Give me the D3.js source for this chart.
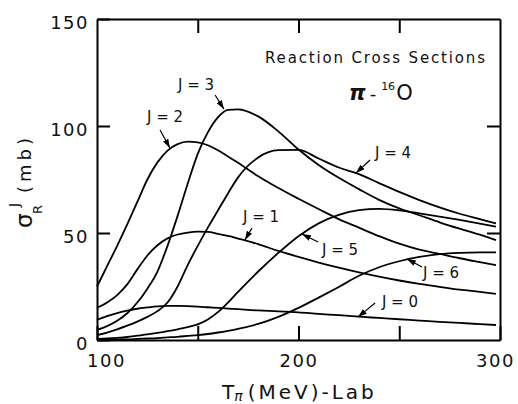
<!DOCTYPE html>
<html>
<head>
<meta charset="utf-8">
<script src="https://cdn.jsdelivr.net/npm/d3@7"></script>
<style>
	body { margin: 0; background: #fff; }
	svg { font-family: "DejaVu Sans", sans-serif; }
</style>
</head>
<body>
<svg width="518" height="404"></svg>
<script>
// T_pi (MeV, lab) sample points shared by every partial wave
const energy = [100, 105, 110, 115, 120, 125, 130, 135, 140, 145, 150, 155, 160, 165, 170,
	180, 190, 200, 210, 220, 230, 240, 250, 260, 270, 280, 290, 298];

// sigma_R^J (mb)
const sigmaJ0 = [9.5, 11.2, 12.6, 13.7, 14.6, 15.2, 15.7, 15.9, 15.9, 15.8, 15.6, 15.3, 15.0, 14.7, 14.4,
	13.8, 13.4, 12.9, 12.2, 11.6, 10.9, 10.3, 9.7, 9.1, 8.5, 8.0, 7.4, 7.0];
const sigmaJ1 = [15, 17.5, 21, 26, 33, 39.5, 44.3, 47.5, 49.3, 50.2, 50.6, 50.5, 49.6, 48.6, 47.4,
	44.8, 41.6, 38.8, 36.2, 33.8, 31.6, 29.6, 27.8, 26.2, 24.8, 23.5, 22.5, 21.6];
const sigmaJ2 = [25, 34.5, 44, 54, 64.5, 75, 83, 88.5, 91.5, 92.7, 92.3, 91, 88.7, 85.8, 82.8,
	76.5, 71, 66, 61.2, 56.5, 52.5, 48.5, 45, 42.2, 40.2, 38.2, 36.4, 35];
const sigmaJ3 = [4.7, 6.5, 9, 12.5, 17.5, 24, 32, 44, 58, 73, 87, 97, 104, 107.5, 107.8,
	104.5, 97.5, 89, 81.8, 75.8, 70.5, 65.5, 61.5, 58.3, 55, 52, 49.2, 46.7];
const sigmaJ4 = [2.3, 3.5, 5, 6.7, 8.6, 10.8, 13.5, 17.5, 25, 35, 44, 52.5, 60.5, 68.5, 76,
	85.3, 88.7, 88.8, 84.8, 80.6, 77.5, 73.3, 69.2, 65.4, 62, 59, 56.5, 54.5];
const sigmaJ5 = [0.5, 0.7, 1, 1.4, 2, 2.6, 3.3, 4.1, 5, 6, 7.3, 9.6, 13, 17.5, 22.5,
	32, 40.7, 48.5, 54.5, 58.5, 60.7, 61.3, 60.6, 59.2, 57.7, 56.1, 54.4, 53];
const sigmaJ6 = [0, 0.1, 0.2, 0.3, 0.5, 0.7, 0.9, 1.2, 1.5, 1.9, 2.3, 2.8, 3.5, 4.3, 5.2,
	7.5, 10.8, 15, 19.8, 24.8, 30, 34, 36.8, 38.8, 40.1, 40.7, 40.9, 40.9];

const xTicks = [100, 150, 200, 250, 300];
const xTickLabels = ["100", "", "200", "", "300"];
const yTicks = [0, 50, 100, 150];
const topTicks = [150, 200, 250];
const rightTicks = [50, 100];

class CrossSectionChart {
	constructor() {
		this.svg = d3.select("svg");
		this.left = 97;
		this.right = 500;
		this.top = 19;
		this.bottom = 340;
		this.x = d3.scaleLinear().domain([100, 300]).range([this.left, this.right]);
		this.y = d3.scaleLinear().domain([0, 150]).range([this.bottom, this.top]);
		this.series = [sigmaJ0, sigmaJ1, sigmaJ2, sigmaJ3, sigmaJ4, sigmaJ5, sigmaJ6].map((vals, j) => ({
			j: j,
			points: energy.map((e, i) => [e, vals[i]]),
		}));
		// label text anchor and arrow (tail, tip), in data units
		this.labels = [
			{ text: "J = 0", at: [241.4, 15.4], from: [238, 17.3], tip: [229.5, 10.7] },
			{ text: "J = 1", at: [172.5, 55.1], from: [176.9, 52.3], tip: [173.4, 46.7] },
			{ text: "J = 2", at: [124.8, 101.9], from: [131.3, 98.1], tip: [136.2, 89.7] },
			{ text: "J = 3", at: [140.2, 116.8], from: [158.6, 114.5], tip: [163.0, 107.9] },
			{ text: "J = 4", at: [238.0, 85.0], from: [235.5, 84.1], tip: [228.5, 78.0] },
			{ text: "J = 5", at: [211.7, 39.7], from: [209.7, 45.8], tip: [201.7, 49.5] },
			{ text: "J = 6", at: [261.8, 29.0], from: [261.3, 34.1], tip: [253.8, 37.9] },
		];
		this.draw();
	}

	draw = () => {
		this.drawAxes();
		this.drawCurves();
		this.drawLabels();
		this.drawTitles();
	};

	drawAxes = () => {
		let g = this.svg.append("g").attr("class", "axes");
		let bottomAxis = g
			.append("g")
			.attr("transform", "translate(0," + this.bottom + ")")
			.call(
				d3.axisBottom(this.x)
					.tickValues(xTicks)
					.tickFormat((d, i) => xTickLabels[i])
					.tickSizeInner(-14)
					.tickSizeOuter(0)
					.tickPadding(14)
			);
		let leftAxis = g
			.append("g")
			.attr("transform", "translate(" + this.left + ",0)")
			.call(
				d3.axisLeft(this.y)
					.tickValues(yTicks)
					.tickSizeInner(-13)
					.tickSizeOuter(0)
					.tickPadding(8)
			);
		g.append("g")
			.attr("transform", "translate(0," + this.top + ")")
			.call(d3.axisTop(this.x).tickValues(topTicks).tickFormat("").tickSizeInner(-14).tickSizeOuter(0));
		g.append("g")
			.attr("transform", "translate(" + this.right + ",0)")
			.call(d3.axisRight(this.y).tickValues(rightTicks).tickFormat("").tickSizeInner(-13).tickSizeOuter(0));

		g.selectAll(".domain, .tick line").attr("stroke", "#000").attr("stroke-width", 2);
		g.selectAll(".tick text")
			.attr("fill", "#111")
			.attr("font-size", "18px")
			.attr("font-family", "DejaVu Sans, sans-serif")
			.attr("letter-spacing", "1.5px");
		// first and last x labels sit a bit inside the frame
		bottomAxis.selectAll(".tick text").attr("dx", (d) => (d === 100 ? 9 : d === 300 ? -5 : 0));
		leftAxis.selectAll(".tick text").attr("dy", "0.5em");
	};

	drawCurves = () => {
		let line = d3
			.line()
			.x((d) => this.x(d[0]))
			.y((d) => this.y(d[1]))
			.curve(d3.curveMonotoneX);
		this.svg
			.append("g")
			.attr("class", "curves")
			.selectAll("path")
			.data(this.series)
			.join("path")
			.attr("d", (d) => line(d.points))
			.attr("fill", "none")
			.attr("stroke", "#000")
			.attr("stroke-width", 1.8)
			.attr("stroke-linejoin", "round");
	};

	drawLabels = () => {
		this.svg
			.append("defs")
			.append("marker")
			.attr("id", "head")
			.attr("markerUnits", "userSpaceOnUse")
			.attr("markerWidth", 9)
			.attr("markerHeight", 6)
			.attr("refX", 9)
			.attr("refY", 3)
			.attr("orient", "auto")
			.append("path")
			.attr("d", "M0,0 L9,3 L0,6 Z")
			.attr("fill", "#000");
		let g = this.svg.append("g").attr("class", "labels");
		g.selectAll("line")
			.data(this.labels)
			.join("line")
			.attr("x1", (d) => this.x(d.from[0]))
			.attr("y1", (d) => this.y(d.from[1]))
			.attr("x2", (d) => this.x(d.tip[0]))
			.attr("y2", (d) => this.y(d.tip[1]))
			.attr("stroke", "#000")
			.attr("stroke-width", 1.2)
			.attr("marker-end", "url(#head)");
		g.selectAll("text")
			.data(this.labels)
			.join("text")
			.attr("x", (d) => this.x(d.at[0]))
			.attr("y", (d) => this.y(d.at[1]))
			.attr("font-size", "15px")
			.attr("fill", "#111")
			.text((d) => d.text);
	};

	drawTitles = () => {
		this.svg
			.append("text")
			.attr("x", 265)
			.attr("y", 63)
			.attr("font-size", "15px")
			.attr("fill", "#111")
			.attr("textLength", 220)
			.attr("lengthAdjust", "spacing")
			.text("Reaction Cross Sections");

		let nucl = this.svg.append("text").attr("x", 349).attr("y", 100).attr("fill", "#111");
		nucl.append("tspan").attr("font-size", "21px").attr("font-style", "italic").attr("font-weight", "bold").text("π");
		nucl.append("tspan").attr("font-size", "18px").attr("dx", 4).text("-");
		nucl.append("tspan").attr("font-size", "11px").attr("dx", 5).attr("dy", -10).text("16");
		nucl.append("tspan").attr("font-size", "21px").attr("dx", 1).attr("dy", 10).text("O");

		// x title
		let xt = this.svg.append("text").attr("x", 222).attr("y", 399).attr("fill", "#111");
		xt.append("tspan").attr("font-size", "20px").text("T");
		xt.append("tspan").attr("font-size", "14px").attr("font-style", "italic").attr("dy", 2).text("π");
		xt.append("tspan")
			.attr("font-size", "20px")
			.attr("dx", 5)
			.attr("dy", -2)
			.attr("letter-spacing", "3px")
			.text("(MeV)-Lab");

		// y title, rotated
		let yt = this.svg.append("g").attr("transform", "translate(32,228) rotate(-90)").attr("fill", "#111");
		yt.append("text").attr("x", 0).attr("y", 0).attr("font-size", "23px").text("σ");
		yt.append("text").attr("x", 14).attr("y", 10).attr("font-size", "13px").text("R");
		yt.append("text").attr("x", 21).attr("y", -13).attr("font-size", "14px").text("J");
		yt.append("text")
			.attr("x", 35)
			.attr("y", -1)
			.attr("font-size", "18px")
			.attr("letter-spacing", "4px")
			.text("(mb)");
	};
}

new CrossSectionChart();
</script>
</body>
</html>
